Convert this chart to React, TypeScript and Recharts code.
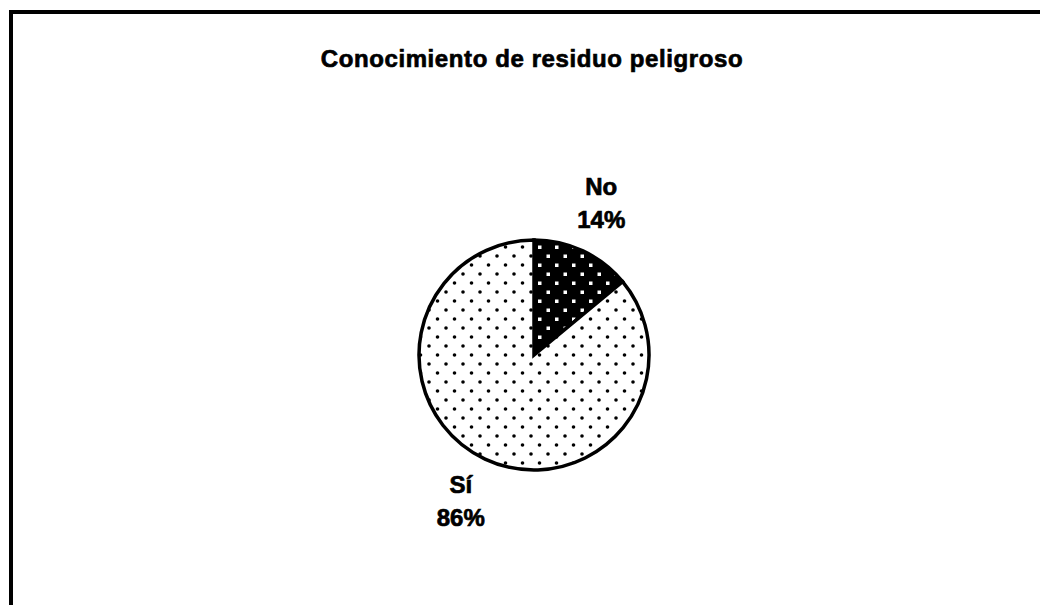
import { PieChart, Pie, Cell } from 'recharts';

const categories = ['No', 'Sí'];
const values = [14, 86];
const fills = ['url(#dotsDark)', 'url(#dotsLight)'];

const data = categories.map((name, i) => ({ name, value: values[i] }));

const RADIAN = Math.PI / 180;

const renderLabel = (props: any) => {
  const { cx, cy, midAngle, outerRadius, name, percent } = props;
  const r = outerRadius + 50;
  const x = cx + r * Math.cos(-midAngle * RADIAN) - 3;
  const y = cy + r * Math.sin(-midAngle * RADIAN);
  return (
    <text
      x={x}
      y={y}
      textAnchor="middle"
      fill="#000"
      stroke="#000"
      strokeWidth={0.7}
      style={{ fontFamily: '"Liberation Sans", Arial, sans-serif', fontWeight: 700, fontSize: 24 }}
    >
      <tspan x={x} y={y - 11}>{name}</tspan>
      <tspan x={x} y={y + 22}>{`${Math.round(percent * 100)}%`}</tspan>
    </text>
  );
};

export default function App() {
  return (
    <div style={{ position: 'absolute', left: 0, top: 0, width: 1040, height: 605, background: '#fff' }}>
      <div
        style={{
          position: 'absolute',
          left: 9,
          top: 10,
          right: 0,
          bottom: 0,
          borderLeft: '4px solid #000',
          borderTop: '4px solid #000',
        }}
      />
      <div
        style={{
          position: 'absolute',
          left: 0,
          width: 1064,
          top: 47,
          textAlign: 'center',
          fontFamily: '"Liberation Sans", Arial, sans-serif',
          fontWeight: 700,
          fontSize: 24,
          lineHeight: '24px',
          letterSpacing: '0.6px',
          WebkitTextStroke: '0.7px #000',
          color: '#000',
        }}
      >
        Conocimiento de residuo peligroso
      </div>
      <div style={{ position: 'absolute', left: 0, top: 0 }}>
        <PieChart width={1040} height={605}>
          <defs>
            <pattern id="dotsLight" width="17" height="18" patternUnits="userSpaceOnUse">
              <rect width="17" height="18" fill="#fff" />
              <circle cx="4" cy="4" r="1.8" fill="#000" />
              <circle cx="12.5" cy="13" r="1.8" fill="#000" />
            </pattern>
            <pattern id="dotsDark" width="17" height="18" patternUnits="userSpaceOnUse">
              <rect width="17" height="18" fill="#000" />
              <rect x="2.5" y="2.5" width="3.5" height="3.5" fill="#fff" />
              <rect x="11" y="11.5" width="3.5" height="3.5" fill="#fff" />
            </pattern>
          </defs>
          <Pie
            data={data}
            dataKey="value"
            nameKey="name"
            cx={529}
            cy={350}
            outerRadius={115}
            startAngle={90}
            endAngle={-270}
            stroke="#000"
            strokeWidth={3.5}
            label={renderLabel}
            labelLine={false}
            isAnimationActive={false}
          >
            {data.map((_, i) => (
              <Cell key={`cell-${i}`} fill={fills[i]} />
            ))}
          </Pie>
        </PieChart>
      </div>
    </div>
  );
}
